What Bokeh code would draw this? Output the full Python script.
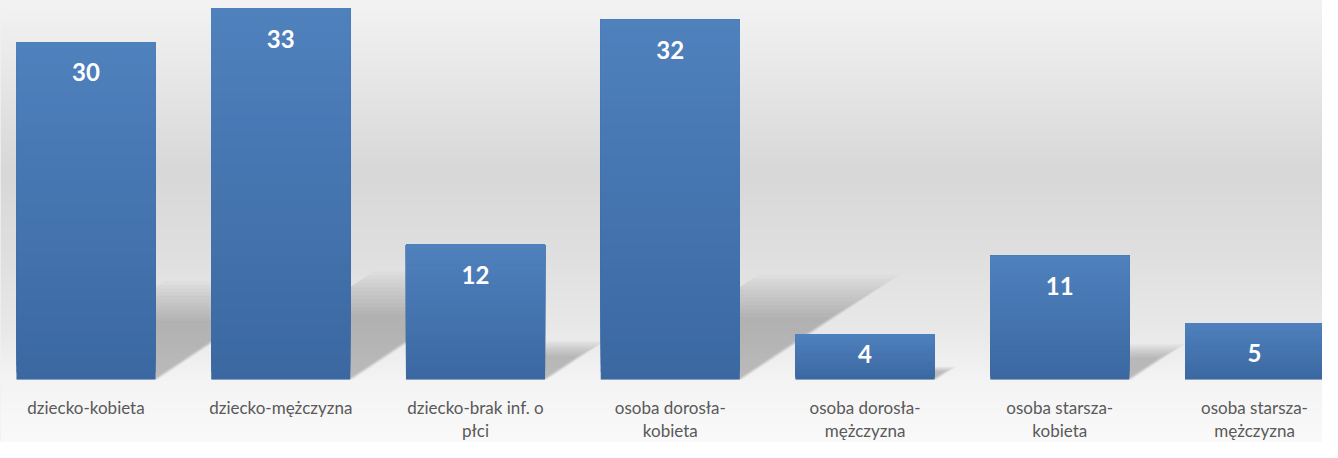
import numpy as np
from bokeh.plotting import figure
from bokeh.models import Range1d
from bokeh.core.properties import value
from bokeh.embed import file_html
from bokeh.resources import INLINE

# ---- data ----
categories = ["dziecko-kobieta", "dziecko-mężczyzna", "dziecko-brak inf. o płci",
              "osoba dorosła-kobieta", "osoba dorosła-mężczyzna",
              "osoba starsza-kobieta", "osoba starsza-mężczyzna"]
tick_labels = ["dziecko-kobieta", "dziecko-mężczyzna", "dziecko-brak inf. o\npłci",
               "osoba dorosła-\nkobieta", "osoba dorosła-\nmężczyzna",
               "osoba starsza-\nkobieta", "osoba starsza-\nmężczyzna"]
counts = [30, 33, 12, 32, 4, 11, 5]

# ---- layout ----
W, H = 1322, 442
BASE = 379.0                       # screen y of the value 0 baseline
ppu = (BASE - 8.0) / 33.0          # pixels per value unit
X0, X1 = -0.439, 6.349
Y0, Y1 = -(H - BASE) / ppu, BASE / ppu
BAR_W = 0.714

p = figure(width=W, height=H, output_backend="svg", toolbar_location=None,
           x_range=Range1d(X0, X1), y_range=Range1d(Y0, Y1),
           min_border=0, outline_line_color=None, border_fill_color="#f7f7f7",
           background_fill_color="#e5e5e5")
p.grid.visible = False
p.axis.visible = False

# background vertical gradient (decoration)
stops_y = [0, 60, 170, 250, 330, 380, 442]
stops_g = [0xf3, 0xea, 0xd8, 0xdf, 0xe9, 0xf4, 0xfa]
rows = np.arange(H)[::-1].astype(float)        # screen y for each image row (row 0 = bottom)
g = np.interp(rows, stops_y, stops_g).astype(np.uint32)
img = ((0xFF << 24) | (g << 16) | (g << 8) | g).reshape(H, 1).astype(np.uint32)
p.image_rgba(image=[img], x=X0, y=Y0, dw=X1 - X0, dh=Y1 - Y0)

xs = np.arange(len(counts))
vals = np.array(counts, dtype=float)

# soft perspective shadows
NL = 12
for k in range(NL):
    f = 0.74 + 0.5 * k / (NL - 1)
    pxs, pys = [], []
    for x, v in zip(xs, vals):
        L, R = x - BAR_W / 2, x + BAR_W / 2
        s = 0.02037 * v * f
        hs = 0.235 * v * f
        pad = 0.03 * (k / (NL - 1) - 0.5)
        pxs.append([L, R + pad, R + s + pad, L + s])
        pys.append([0, 0, hs, hs])
    p.patches(pxs, pys, fill_color="black", fill_alpha=0.021, line_color=None)

# bars with vertical gradient (overlapping slices, no seams)
N = 48
top_c = np.array([79, 129, 189])
bot_c = np.array([59, 104, 161])
qb, qt, ql, qr, qc = [], [], [], [], []
for j in range(N):
    t = (j + 0.5) / N
    c = bot_c + (top_c - bot_c) * t
    col = "#%02x%02x%02x" % tuple(int(round(a)) for a in c)
    for x, v in zip(xs, vals):
        qb.append(v * j / N)
        qt.append(v)
        ql.append(x - BAR_W / 2)
        qr.append(x + BAR_W / 2)
        qc.append(col)
p.quad(left=ql, right=qr, bottom=qb, top=qt, fill_color=qc, line_color=None)

# data labels inside end
lab_y = [v - min(30.0, v * ppu - 26.0) / ppu for v in vals]
p.text(x=xs, y=lab_y, text=[str(c) for c in counts], text_align="center",
       text_baseline="middle", text_color="white", text_font=value("Lato"),
       text_font_style="bold", text_font_size="24px")

# category labels (two lines)
line1 = [t.split("\n")[0] for t in tick_labels]
line2 = [t.split("\n")[1] if "\n" in t else "" for t in tick_labels]
for txt, sy in ((line1, 407.0), (line2, 430.0)):
    p.text(x=xs, y=[(BASE - sy) / ppu] * len(xs), text=txt, text_align="center",
           text_baseline="middle", text_color="#595959", text_font=value("Lato"),
           text_font_size="17px")

open("out.html", "w").write(file_html(p, INLINE))
